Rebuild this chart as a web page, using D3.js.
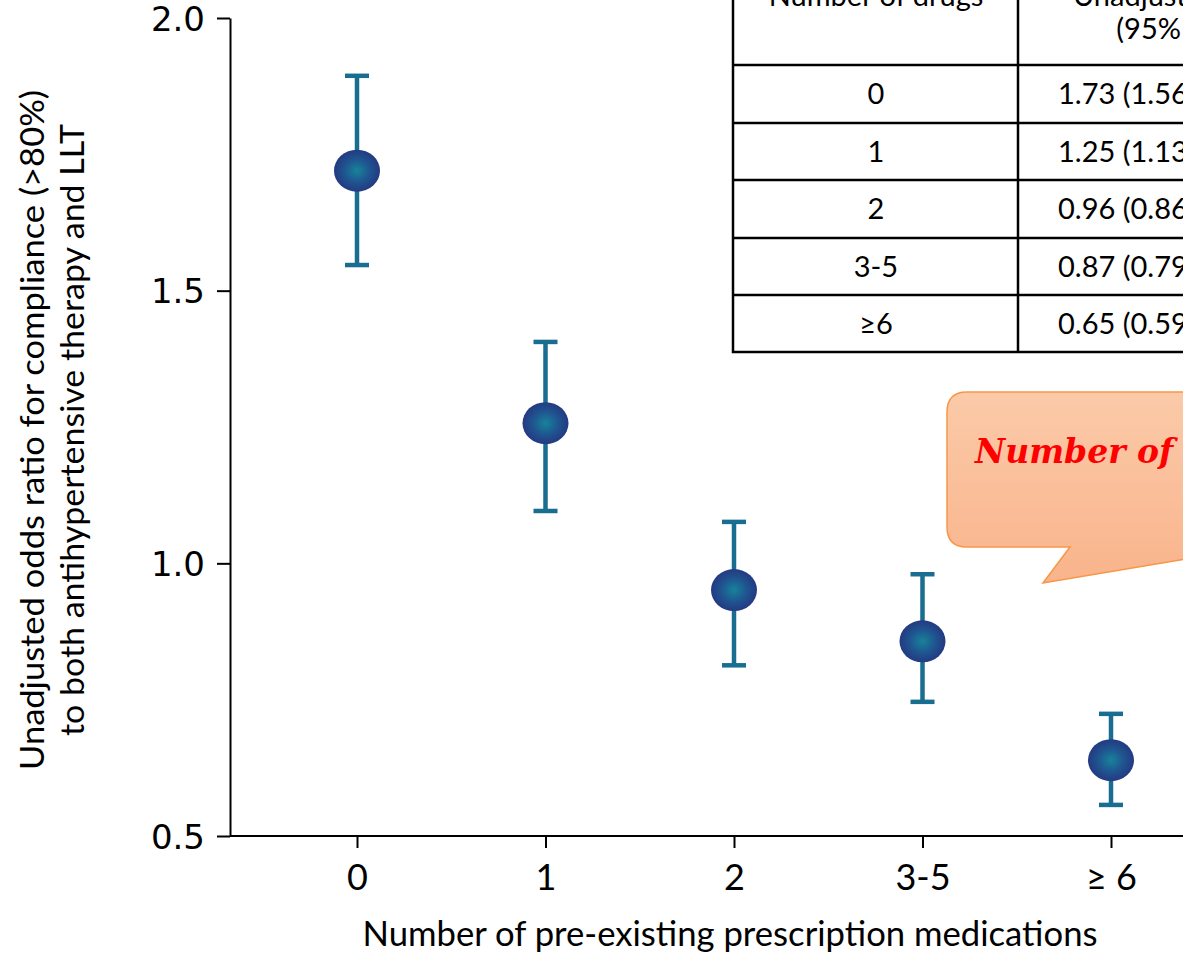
<!DOCTYPE html>
<html>
<head>
<meta charset="utf-8">
<script src="https://cdn.jsdelivr.net/npm/d3@7"></script>
<style>
  body { margin: 0; background: #fff; }
  svg { display: block; }
</style>
</head>
<body>
<div id="chart"></div>
<script>
// categories and values
var categories = ["0", "1", "2", "3-5", "≥ 6"];
var oddsRatio = [1.72, 1.257, 0.951, 0.857, 0.639];
var ciLow = [1.547, 1.096, 0.813, 0.746, 0.557];
var ciHigh = [1.894, 1.406, 1.076, 0.98, 0.724];
var yTicks = [0.5, 1.0, 1.5, 2.0];

// inset table
var tableHeader = [["Number of drugs"], ["Unadjusted OR", "(95% CI)"]];
var tableDrugs = ["0", "1", "2", "3-5", "≥6"];
var tableOR = ["1.73 (1.56-1.91)", "1.25 (1.13-1.39)", "0.96 (0.86-1.07)", "0.87 (0.79-0.97)", "0.65 (0.59-0.72)"];

var calloutText = "Number of drugs";

var W = 1183, H = 956;
var svg = d3.select("#chart").append("svg")
  .attr("width", W).attr("height", H);

var defs = svg.append("defs");
var rg = defs.append("radialGradient").attr("id", "dot");
rg.append("stop").attr("offset", "0%").attr("stop-color", "#17839a");
rg.append("stop").attr("offset", "55%").attr("stop-color", "#1f5590");
rg.append("stop").attr("offset", "100%").attr("stop-color", "#243a82");
var lg = defs.append("linearGradient").attr("id", "callout")
  .attr("x1", 0).attr("y1", 0).attr("x2", 0).attr("y2", 1);
lg.append("stop").attr("offset", "0%").attr("stop-color", "#fbcaa9");
lg.append("stop").attr("offset", "100%").attr("stop-color", "#f9b48b");

var x = d3.scalePoint().domain(categories).range([357, 1111]);
var y = d3.scaleLinear().domain([0.5, 2.0]).range([836, 18]);

var sans = "Lato, 'Open Sans', sans-serif";

// y axis
var yAxis = svg.append("g")
  .attr("transform", "translate(230,0)")
  .call(d3.axisLeft(y).tickValues(yTicks).tickFormat(d3.format(".1f")).tickSize(13).tickSizeOuter(0));
yAxis.select(".domain").attr("stroke", "#000").attr("stroke-width", 2);
yAxis.selectAll(".tick line").attr("stroke", "#000").attr("stroke-width", 2);
yAxis.selectAll(".tick text")
  .attr("x", -25).attr("dy", "0.36em")
  .style("font-family", "DejaVu Sans, Verdana, sans-serif")
  .style("font-size", "34px").attr("fill", "#000");

// x axis
var xAxis = svg.append("g")
  .attr("transform", "translate(0,836)")
  .call(d3.axisBottom(x).tickSize(12).tickSizeOuter(0));
xAxis.select(".domain").attr("d", "M230,0H1200").attr("stroke", "#000").attr("stroke-width", 2);
xAxis.selectAll(".tick line").attr("stroke", "#000").attr("stroke-width", 2);
xAxis.selectAll(".tick text")
  .attr("y", 54).attr("dy", null)
  .style("font-family", sans)
  .style("font-size", "36px").attr("fill", "#000");

// error bars
var data = categories.map(function (c, i) {
  return { cat: c, or: oddsRatio[i], lo: ciLow[i], hi: ciHigh[i] };
});
var bars = svg.append("g").selectAll("g").data(data).enter().append("g");
bars.append("line")
  .attr("x1", function (d) { return x(d.cat); })
  .attr("x2", function (d) { return x(d.cat); })
  .attr("y1", function (d) { return y(d.lo); })
  .attr("y2", function (d) { return y(d.hi); })
  .attr("stroke", "#196d91").attr("stroke-width", 4.5);
bars.selectAll(".cap")
  .data(function (d) { return [{ cat: d.cat, v: d.lo }, { cat: d.cat, v: d.hi }]; })
  .enter().append("line")
  .attr("x1", function (d) { return x(d.cat) - 12; })
  .attr("x2", function (d) { return x(d.cat) + 12; })
  .attr("y1", function (d) { return y(d.v); })
  .attr("y2", function (d) { return y(d.v); })
  .attr("stroke", "#196d91").attr("stroke-width", 4.5);
bars.append("ellipse")
  .attr("cx", function (d) { return x(d.cat); })
  .attr("cy", function (d) { return y(d.or); })
  .attr("rx", 23).attr("ry", 21)
  .attr("fill", "url(#dot)");

// axis titles
svg.append("text")
  .attr("x", 730).attr("y", 946)
  .attr("text-anchor", "middle")
  .attr("textLength", 735).attr("lengthAdjust", "spacingAndGlyphs")
  .style("font-family", sans)
  .style("font-size", "34px")
  .text("Number of pre-existing prescription medications");

var yt = svg.append("g").attr("transform", "translate(0,430) rotate(-90)");
yt.append("text").attr("x", 0).attr("y", 44)
  .attr("text-anchor", "middle")
  .attr("textLength", 680).attr("lengthAdjust", "spacingAndGlyphs")
  .style("font-family", sans).style("font-size", "32px")
  .text("Unadjusted odds ratio for compliance (>80%)");
yt.append("text").attr("x", 0).attr("y", 84)
  .attr("text-anchor", "middle")
  .attr("textLength", 612).attr("lengthAdjust", "spacingAndGlyphs")
  .style("font-family", sans).style("font-size", "32px")
  .text("to both antihypertensive therapy and LLT");

// inset table
var tbl = svg.append("g");
var rowTops = [65, 123, 180, 238, 295, 352];
tbl.append("rect").attr("x", 733).attr("y", -10).attr("width", 600).attr("height", 362)
  .attr("fill", "#fff").attr("stroke", "#000").attr("stroke-width", 2.5);
rowTops.slice(0, 5).forEach(function (ry) {
  tbl.append("line").attr("x1", 733).attr("x2", 1333).attr("y1", ry).attr("y2", ry)
    .attr("stroke", "#000").attr("stroke-width", 2.5);
});
tbl.append("line").attr("x1", 1018).attr("x2", 1018).attr("y1", -10).attr("y2", 352)
  .attr("stroke", "#000").attr("stroke-width", 2.5);
var tsize = "29px";
tbl.append("text").attr("x", 876).attr("y", 6).attr("text-anchor", "middle")
  .style("font-family", sans).style("font-size", tsize).text(tableHeader[0][0]);
tbl.append("text").attr("x", 1170).attr("y", 6).attr("text-anchor", "middle")
  .style("font-family", sans).style("font-size", tsize).text(tableHeader[1][0]);
tbl.append("text").attr("x", 1170).attr("y", 39).attr("text-anchor", "middle")
  .style("font-family", sans).style("font-size", tsize).text(tableHeader[1][1]);
tableDrugs.forEach(function (t, i) {
  var cy = (rowTops[i] + rowTops[i + 1]) / 2;
  tbl.append("text").attr("x", 876).attr("y", cy).attr("dy", "0.36em").attr("text-anchor", "middle")
    .style("font-family", sans).style("font-size", tsize).text(t);
  tbl.append("text").attr("x", 1058).attr("y", cy).attr("dy", "0.36em").attr("text-anchor", "start")
    .style("font-family", sans).style("font-size", tsize).text(tableOR[i]);
});

// callout
svg.append("path")
  .attr("d", "M967,392 H1300 V540 L1043,583 L1070,547 H967 Q947,547 947,527 V412 Q947,392 967,392 Z")
  .attr("fill", "url(#callout)").attr("stroke", "#f79646").attr("stroke-width", 1.5);
svg.append("text").attr("x", 975).attr("y", 463)
  .style("font-family", "'DejaVu Serif', 'Liberation Serif', serif")
  .style("font-style", "italic").style("font-weight", "bold")
  .style("font-size", "33px").attr("fill", "#ff0000")
  .text(calloutText);
</script>
</body>
</html>
